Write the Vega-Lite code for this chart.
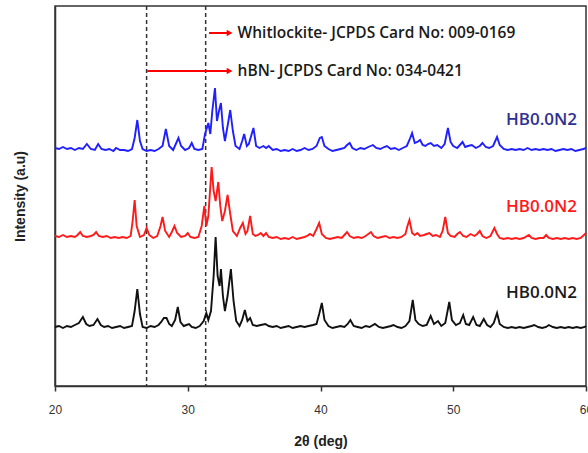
{
  "$schema": "https://vega.github.io/schema/vega-lite/v6.json",
  "width": 531,
  "height": 380,
  "autosize": "none",
  "padding": {"left": 55, "top": 6, "right": 2, "bottom": 67},
  "background": "white",
  "config": {
    "view": {"stroke": "#333333", "strokeWidth": 1.5},
    "axis": {"grid": false}
  },
  "datasets": {
    "vlines": [{"x": 26.9}, {"x": 31.35}],
    "arrows": [
      {"x1": 31.6, "x2": 33.15, "y": 353, "t": "Whitlockite- JCPDS Card No: 009-0169"},
      {"x1": 26.95, "x2": 33.15, "y": 315, "t": "hBN- JCPDS Card No: 034-0421"}
    ],
    "labels": [
      {"x": 56.65, "y": 266, "t": "HB0.0N2", "c": "b"},
      {"x": 56.65, "y": 179, "t": "HB0.0N2", "c": "r"},
      {"x": 56.65, "y": 93, "t": "HB0.0N2", "c": "k"}
    ],
    "blue": [
      {"x":20.0,"y":238},{"x":20.3,"y":237},{"x":20.6,"y":239},{"x":20.9,"y":237},{"x":21.2,"y":238},{"x":21.5,"y":236},{"x":21.8,"y":238},{"x":22.1,"y":237},{"x":22.4,"y":242},{"x":22.7,"y":237},
      {"x":23.0,"y":236},{"x":23.25,"y":242},{"x":23.5,"y":237},{"x":23.8,"y":236},{"x":24.1,"y":237},{"x":24.4,"y":235},{"x":24.6,"y":238},{"x":24.9,"y":236},{"x":25.2,"y":236},{"x":25.5,"y":235},
      {"x":25.8,"y":237},{"x":26.0,"y":248},{"x":26.2,"y":266},{"x":26.4,"y":245},{"x":26.6,"y":237},{"x":26.9,"y":235},{"x":27.2,"y":236},{"x":27.5,"y":235},{"x":27.8,"y":237},{"x":28.1,"y":240},
      {"x":28.35,"y":257},{"x":28.6,"y":240},{"x":28.9,"y":236},{"x":29.1,"y":242},{"x":29.3,"y":248},{"x":29.5,"y":240},{"x":29.8,"y":236},{"x":30.1,"y":238},{"x":30.3,"y":243},{"x":30.5,"y":237},
      {"x":30.8,"y":236},{"x":31.1,"y":237},{"x":31.3,"y":252},{"x":31.55,"y":263},{"x":31.7,"y":252},{"x":31.85,"y":275},{"x":32.05,"y":298},{"x":32.2,"y":265},{"x":32.35,"y":275},{"x":32.5,"y":283},
      {"x":32.65,"y":258},{"x":32.8,"y":245},{"x":33.0,"y":260},{"x":33.2,"y":276},{"x":33.4,"y":255},{"x":33.6,"y":240},{"x":33.9,"y":237},{"x":34.1,"y":245},{"x":34.25,"y":252},{"x":34.45,"y":240},
      {"x":34.6,"y":242},{"x":34.95,"y":258},{"x":35.15,"y":240},{"x":35.4,"y":238},{"x":35.7,"y":240},{"x":35.9,"y":238},{"x":36.1,"y":240},{"x":36.4,"y":236},{"x":36.7,"y":237},{"x":37.0,"y":235},
      {"x":37.3,"y":236},{"x":37.6,"y":235},{"x":37.9,"y":237},{"x":38.2,"y":235},{"x":38.5,"y":236},{"x":38.8,"y":238},{"x":39.1,"y":236},{"x":39.4,"y":237},{"x":39.7,"y":240},{"x":39.95,"y":248},
      {"x":40.1,"y":249},{"x":40.3,"y":240},{"x":40.6,"y":237},{"x":40.9,"y":235},{"x":41.2,"y":236},{"x":41.5,"y":237},{"x":41.8,"y":238},{"x":42.0,"y":241},{"x":42.2,"y":243},{"x":42.4,"y":238},
      {"x":42.7,"y":236},{"x":43.0,"y":238},{"x":43.3,"y":237},{"x":43.6,"y":239},{"x":43.95,"y":241},{"x":44.2,"y":238},{"x":44.5,"y":237},{"x":44.8,"y":239},{"x":45.0,"y":240},{"x":45.3,"y":237},
      {"x":45.6,"y":238},{"x":45.9,"y":236},{"x":46.2,"y":238},{"x":46.5,"y":240},{"x":46.7,"y":246},{"x":46.9,"y":253},{"x":47.1,"y":243},{"x":47.3,"y":244},{"x":47.5,"y":246},{"x":47.7,"y":241},
      {"x":47.9,"y":240},{"x":48.1,"y":242},{"x":48.3,"y":243},{"x":48.55,"y":240},{"x":48.8,"y":241},{"x":49.1,"y":238},{"x":49.35,"y":242},{"x":49.6,"y":258},{"x":49.8,"y":244},{"x":50.0,"y":240},
      {"x":50.3,"y":238},{"x":50.5,"y":241},{"x":50.7,"y":244},{"x":50.9,"y":239},{"x":51.1,"y":240},{"x":51.4,"y":241},{"x":51.7,"y":238},{"x":52.0,"y":240},{"x":52.2,"y":243},{"x":52.45,"y":239},
      {"x":52.7,"y":238},{"x":53.0,"y":240},{"x":53.3,"y":249},{"x":53.5,"y":241},{"x":53.8,"y":237},{"x":54.1,"y":236},{"x":54.4,"y":237},{"x":54.7,"y":236},{"x":55.0,"y":237},{"x":55.3,"y":236},
      {"x":55.6,"y":238},{"x":55.9,"y":236},{"x":56.2,"y":237},{"x":56.5,"y":236},{"x":56.8,"y":237},{"x":57.1,"y":236},{"x":57.4,"y":237},{"x":57.7,"y":235},{"x":58.0,"y":236},{"x":58.3,"y":237},
      {"x":58.6,"y":236},{"x":58.9,"y":237},{"x":59.2,"y":235},{"x":59.5,"y":236},{"x":59.8,"y":237},{"x":60.0,"y":238}
    ],
    "red": [
      {"x":20.0,"y":150},{"x":20.3,"y":149},{"x":20.6,"y":151},{"x":20.9,"y":149},{"x":21.2,"y":150},{"x":21.5,"y":149},{"x":21.7,"y":151},{"x":21.9,"y":154},{"x":22.1,"y":150},{"x":22.4,"y":149},
      {"x":22.7,"y":150},{"x":22.9,"y":151},{"x":23.1,"y":154},{"x":23.3,"y":150},{"x":23.6,"y":149},{"x":23.9,"y":150},{"x":24.2,"y":148},{"x":24.5,"y":149},{"x":24.8,"y":148},{"x":25.1,"y":149},
      {"x":25.4,"y":148},{"x":25.7,"y":150},{"x":25.85,"y":165},{"x":26.0,"y":186},{"x":26.15,"y":160},{"x":26.4,"y":149},{"x":26.7,"y":151},{"x":26.9,"y":158},{"x":27.1,"y":151},{"x":27.4,"y":148},
      {"x":27.7,"y":150},{"x":27.95,"y":160},{"x":28.1,"y":169},{"x":28.3,"y":155},{"x":28.6,"y":149},{"x":28.8,"y":154},{"x":29.0,"y":160},{"x":29.2,"y":153},{"x":29.5,"y":149},{"x":29.8,"y":150},
      {"x":30.0,"y":153},{"x":30.2,"y":149},{"x":30.5,"y":148},{"x":30.8,"y":149},{"x":31.05,"y":160},{"x":31.25,"y":180},{"x":31.4,"y":160},{"x":31.55,"y":170},{"x":31.8,"y":219},{"x":31.95,"y":195},
      {"x":32.1,"y":185},{"x":32.3,"y":204},{"x":32.45,"y":180},{"x":32.6,"y":165},{"x":32.8,"y":175},{"x":33.0,"y":191},{"x":33.2,"y":172},{"x":33.4,"y":155},{"x":33.7,"y":150},{"x":33.95,"y":158},
      {"x":34.15,"y":163},{"x":34.35,"y":152},{"x":34.5,"y":155},{"x":34.7,"y":170},{"x":34.9,"y":152},{"x":35.1,"y":150},{"x":35.3,"y":151},{"x":35.5,"y":153},{"x":35.7,"y":150},{"x":35.9,"y":153},
      {"x":36.1,"y":149},{"x":36.4,"y":148},{"x":36.7,"y":149},{"x":37.0,"y":147},{"x":37.3,"y":148},{"x":37.6,"y":147},{"x":37.9,"y":149},{"x":38.2,"y":147},{"x":38.5,"y":148},{"x":38.8,"y":149},
      {"x":39.0,"y":150},{"x":39.2,"y":152},{"x":39.45,"y":150},{"x":39.7,"y":157},{"x":39.9,"y":163},{"x":40.1,"y":152},{"x":40.4,"y":148},{"x":40.7,"y":147},{"x":41.0,"y":148},{"x":41.3,"y":149},
      {"x":41.6,"y":148},{"x":41.8,"y":151},{"x":42.0,"y":154},{"x":42.2,"y":150},{"x":42.5,"y":148},{"x":42.8,"y":149},{"x":43.1,"y":148},{"x":43.4,"y":150},{"x":43.8,"y":154},{"x":44.0,"y":150},
      {"x":44.3,"y":148},{"x":44.6,"y":149},{"x":44.9,"y":150},{"x":45.2,"y":148},{"x":45.5,"y":149},{"x":45.8,"y":148},{"x":46.1,"y":149},{"x":46.4,"y":152},{"x":46.55,"y":160},{"x":46.7,"y":166},
      {"x":46.9,"y":153},{"x":47.1,"y":151},{"x":47.3,"y":153},{"x":47.5,"y":150},{"x":47.8,"y":151},{"x":48.0,"y":152},{"x":48.2,"y":153},{"x":48.45,"y":150},{"x":48.7,"y":151},{"x":49.0,"y":149},
      {"x":49.2,"y":155},{"x":49.4,"y":169},{"x":49.6,"y":153},{"x":49.8,"y":150},{"x":50.1,"y":149},{"x":50.3,"y":152},{"x":50.5,"y":154},{"x":50.75,"y":150},{"x":51.0,"y":149},{"x":51.3,"y":152},
      {"x":51.6,"y":150},{"x":51.8,"y":152},{"x":52.0,"y":155},{"x":52.2,"y":150},{"x":52.5,"y":148},{"x":52.8,"y":150},{"x":53.1,"y":158},{"x":53.3,"y":152},{"x":53.5,"y":148},{"x":53.8,"y":147},
      {"x":54.1,"y":148},{"x":54.4,"y":147},{"x":54.7,"y":148},{"x":55.0,"y":147},{"x":55.3,"y":148},{"x":55.7,"y":151},{"x":55.9,"y":148},{"x":56.2,"y":147},{"x":56.5,"y":148},{"x":56.8,"y":148},
      {"x":57.0,"y":151},{"x":57.2,"y":148},{"x":57.5,"y":147},{"x":57.8,"y":148},{"x":58.1,"y":147},{"x":58.4,"y":148},{"x":58.7,"y":147},{"x":59.0,"y":148},{"x":59.3,"y":147},{"x":59.6,"y":148},
      {"x":59.85,"y":151},{"x":60.0,"y":153}
    ],
    "black": [
      {"x":20.0,"y":59},{"x":20.3,"y":60},{"x":20.6,"y":58},{"x":20.9,"y":60},{"x":21.2,"y":59},{"x":21.5,"y":61},{"x":21.8,"y":63},{"x":22.1,"y":69},{"x":22.35,"y":62},{"x":22.6,"y":60},
      {"x":22.9,"y":61},{"x":23.2,"y":67},{"x":23.45,"y":61},{"x":23.7,"y":59},{"x":24.0,"y":60},{"x":24.3,"y":58},{"x":24.6,"y":59},{"x":24.9,"y":60},{"x":25.2,"y":58},{"x":25.5,"y":59},
      {"x":25.8,"y":60},{"x":26.0,"y":75},{"x":26.2,"y":97},{"x":26.4,"y":72},{"x":26.6,"y":59},{"x":26.9,"y":58},{"x":27.2,"y":60},{"x":27.5,"y":59},{"x":27.8,"y":61},{"x":28.0,"y":64},
      {"x":28.2,"y":68},{"x":28.4,"y":68},{"x":28.6,"y":62},{"x":28.8,"y":60},{"x":29.05,"y":66},{"x":29.25,"y":79},{"x":29.45,"y":64},{"x":29.7,"y":60},{"x":29.9,"y":61},{"x":30.1,"y":62},
      {"x":30.3,"y":59},{"x":30.6,"y":58},{"x":30.9,"y":60},{"x":31.2,"y":65},{"x":31.4,"y":73},{"x":31.55,"y":66},{"x":31.75,"y":75},{"x":31.95,"y":110},{"x":32.1,"y":149},{"x":32.25,"y":110},
      {"x":32.4,"y":100},{"x":32.5,"y":117},{"x":32.65,"y":90},{"x":32.8,"y":75},{"x":33.0,"y":90},{"x":33.25,"y":117},{"x":33.45,"y":85},{"x":33.65,"y":65},{"x":33.9,"y":60},{"x":34.1,"y":66},
      {"x":34.3,"y":76},{"x":34.5,"y":65},{"x":34.7,"y":68},{"x":34.9,"y":61},{"x":35.2,"y":60},{"x":35.5,"y":61},{"x":35.85,"y":62},{"x":36.1,"y":60},{"x":36.4,"y":59},{"x":36.7,"y":60},
      {"x":37.0,"y":58},{"x":37.3,"y":59},{"x":37.6,"y":60},{"x":37.9,"y":58},{"x":38.2,"y":59},{"x":38.5,"y":60},{"x":38.8,"y":59},{"x":39.1,"y":60},{"x":39.45,"y":61},{"x":39.7,"y":62},
      {"x":39.9,"y":72},{"x":40.1,"y":83},{"x":40.3,"y":66},{"x":40.6,"y":60},{"x":40.9,"y":58},{"x":41.2,"y":59},{"x":41.5,"y":60},{"x":41.8,"y":59},{"x":42.05,"y":62},{"x":42.25,"y":66},
      {"x":42.5,"y":60},{"x":42.8,"y":59},{"x":43.1,"y":58},{"x":43.4,"y":60},{"x":43.7,"y":59},{"x":44.1,"y":62},{"x":44.4,"y":59},{"x":44.7,"y":58},{"x":45.0,"y":59},{"x":45.3,"y":60},
      {"x":45.5,"y":61},{"x":45.8,"y":59},{"x":46.1,"y":58},{"x":46.4,"y":60},{"x":46.7,"y":65},{"x":46.95,"y":86},{"x":47.15,"y":66},{"x":47.4,"y":62},{"x":47.7,"y":60},{"x":48.0,"y":61},
      {"x":48.3,"y":70},{"x":48.55,"y":62},{"x":48.85,"y":65},{"x":49.1,"y":60},{"x":49.4,"y":63},{"x":49.7,"y":84},{"x":49.9,"y":66},{"x":50.2,"y":61},{"x":50.5,"y":63},{"x":50.75,"y":71},
      {"x":50.95,"y":62},{"x":51.2,"y":61},{"x":51.5,"y":69},{"x":51.75,"y":61},{"x":52.0,"y":60},{"x":52.3,"y":67},{"x":52.55,"y":61},{"x":52.8,"y":59},{"x":53.05,"y":63},{"x":53.3,"y":73},
      {"x":53.5,"y":62},{"x":53.8,"y":59},{"x":54.1,"y":58},{"x":54.4,"y":59},{"x":54.7,"y":58},{"x":55.0,"y":59},{"x":55.3,"y":58},{"x":55.6,"y":59},{"x":55.9,"y":60},{"x":56.1,"y":61},
      {"x":56.4,"y":59},{"x":56.7,"y":58},{"x":57.0,"y":59},{"x":57.2,"y":61},{"x":57.5,"y":59},{"x":57.8,"y":58},{"x":58.1,"y":59},{"x":58.4,"y":58},{"x":58.7,"y":59},{"x":59.0,"y":58},
      {"x":59.3,"y":59},{"x":59.6,"y":58},{"x":59.9,"y":59},{"x":60.0,"y":60}
    ]
  },
  "encoding": {
    "x": {
      "field": "x", "type": "quantitative",
      "scale": {"domain": [20, 60], "nice": false, "zero": false},
      "axis": {
        "values": [20, 30, 40, 50, 60],
        "title": "2θ (deg)",
        "titleFont": "Liberation Sans", "titleFontSize": 14, "titleFontWeight": "bold", "titleColor": "#222222",
        "titlePadding": 19,
        "labelFont": "Liberation Sans", "labelFontSize": 12, "labelColor": "#333333",
        "labelPadding": 13,
        "tickSize": 5, "tickColor": "#333333", "tickWidth": 1.5,
        "domainColor": "#333333", "domainWidth": 1.5,
        "labelFlush": false, "labelOverlap": false
      }
    }
  },
  "layer": [
    {
      "data": {"name": "vlines"},
      "mark": {"type": "rule", "color": "#333333", "strokeDash": [4, 3], "strokeWidth": 1.5},
      "encoding": {"x": {"field": "x", "type": "quantitative"}}
    },
    {
      "data": {"name": "blue"},
      "mark": {"type": "line", "color": "#1f1fff", "strokeWidth": 1.9},
      "encoding": {
        "y": {
          "field": "y", "type": "quantitative",
          "scale": {"domain": [0, 380], "nice": false},
          "axis": {
            "title": "Intensity (a.u)", "labels": false, "ticks": false,
            "titleFont": "Liberation Sans", "titleFontSize": 14, "titleFontWeight": "bold", "titleColor": "#222222",
            "titlePadding": 28, "domainColor": "#333333", "domainWidth": 1.5
          }
        }
      }
    },
    {
      "data": {"name": "red"},
      "mark": {"type": "line", "color": "#ff1a1a", "strokeWidth": 1.9},
      "encoding": {"y": {"field": "y", "type": "quantitative"}}
    },
    {
      "data": {"name": "black"},
      "mark": {"type": "line", "color": "#111111", "strokeWidth": 1.9},
      "encoding": {"y": {"field": "y", "type": "quantitative"}}
    },
    {
      "data": {"name": "arrows"},
      "mark": {"type": "rule", "color": "#ff0000", "strokeWidth": 2},
      "encoding": {
        "x": {"field": "x1", "type": "quantitative"},
        "x2": {"field": "x2"},
        "y": {"field": "y", "type": "quantitative"}
      }
    },
    {
      "data": {"name": "arrows"},
      "mark": {"type": "point", "shape": "triangle-right", "filled": true, "color": "#ff0000", "size": 45, "opacity": 1},
      "encoding": {
        "x": {"field": "x2", "type": "quantitative"},
        "y": {"field": "y", "type": "quantitative"}
      }
    },
    {
      "data": {"name": "arrows"},
      "mark": {"type": "text", "align": "left", "baseline": "middle", "dx": 8, "font": "Open Sans", "fontSize": 15.5, "fontWeight": 600, "color": "#1a1a1a"},
      "encoding": {
        "x": {"field": "x2", "type": "quantitative"},
        "y": {"field": "y", "type": "quantitative"},
        "text": {"field": "t"}
      }
    },
    {
      "data": {"name": "labels"},
      "mark": {"type": "text", "align": "center", "baseline": "middle", "font": "Open Sans", "fontSize": 17, "fontWeight": 600},
      "encoding": {
        "x": {"field": "x", "type": "quantitative"},
        "y": {"field": "y", "type": "quantitative"},
        "text": {"field": "t"},
        "color": {"field": "c", "type": "nominal", "scale": {"domain": ["b", "r", "k"], "range": ["#2e3192", "#ff1a1a", "#1a1a1a"]}, "legend": null}
      }
    }
  ]
}
